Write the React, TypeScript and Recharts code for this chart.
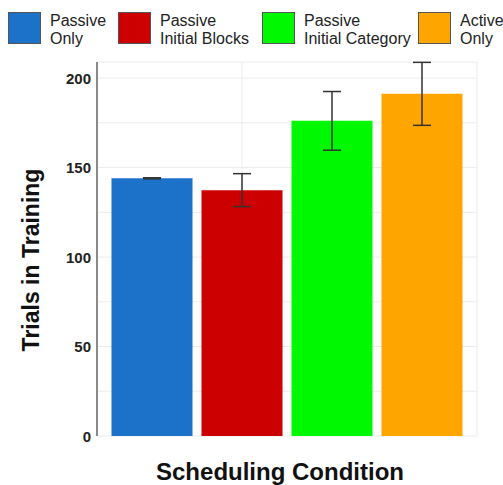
import React from 'react';
import { BarChart, Bar, XAxis, YAxis, CartesianGrid, ErrorBar, Cell } from 'recharts';

const categories = ['Passive Only', 'Passive Initial Blocks', 'Passive Initial Category', 'Active Only'];
const legendLine1 = ['Passive', 'Passive', 'Passive', 'Active'];
const legendLine2 = ['Only', 'Initial Blocks', 'Initial Category', 'Only'];
const meanTrials = [144.0, 137.4, 176.1, 191.2];
const errTrials = [0.3, 9.2, 16.4, 17.6];
const colors = ['#1c71c9', '#cc0000', '#00f900', '#ffa500'];
const yTicks = [0, 25, 50, 75, 100, 125, 150, 175, 200];
const yLabelTicks = [0, 50, 100, 150, 200];

const data = categories.map((c, i) => ({ name: c, value: meanTrials[i], err: errTrials[i] }));

const FONT = '"Liberation Sans", Arial, Helvetica, sans-serif';

const legendX = [8, 118, 262, 418];

const YTick = (props: any) => {
  const { x, y, payload } = props;
  if (!yLabelTicks.includes(payload.value)) return <g />;
  return (
    <text x={x} y={y} textAnchor="end" dominantBaseline="central" fontFamily={FONT} fontSize={15} fontWeight="bold" fill="#222">
      {payload.value}
    </text>
  );
};

const NoTick = () => <g />;

export default function App() {
  return (
    <div style={{ position: 'absolute', left: 0, top: 0, width: 503, height: 485, background: '#fff', overflow: 'hidden' }}>
      <div style={{ position: 'absolute', left: 0, top: 0, width: 503, height: 50 }}>
        {categories.map((c, i) => (
          <div key={c} style={{ position: 'absolute', left: legendX[i], top: 12, display: 'flex', alignItems: 'flex-start' }}>
            <div style={{ width: 33, height: 32, background: colors[i], border: '1px solid #555', boxSizing: 'border-box' }} />
            <div style={{ marginLeft: 9, marginTop: 0, fontFamily: FONT, fontSize: 16, lineHeight: '18px', color: '#222', whiteSpace: 'nowrap' }}>
              <div>{legendLine1[i]}</div>
              <div>{legendLine2[i]}</div>
            </div>
          </div>
        ))}
      </div>
      <div style={{ position: 'absolute', left: 0, top: 0 }}>
        <BarChart width={503} height={485} data={data} margin={{ top: 62, right: 26, left: 0, bottom: 49 }} barCategoryGap="5%">
          <CartesianGrid stroke="#ebebeb" strokeWidth={1} />
          <XAxis dataKey="name" height={0} tick={<NoTick />} tickLine={false} axisLine={{ stroke: '#666', strokeWidth: 1.5 }} padding={{ left: 10, right: 10 }} />
          <YAxis
            width={97}
            domain={[0, 209]}
            ticks={yTicks}
            interval={0}
            tick={<YTick />}
            tickLine={false}
            tickSize={4}
            tickMargin={2}
            axisLine={{ stroke: '#666', strokeWidth: 1.5 }}
            allowDataOverflow
          />
          <Bar dataKey="value" isAnimationActive={false}>
            {data.map((d, i) => (
              <Cell key={d.name} fill={colors[i]} />
            ))}
            <ErrorBar dataKey="err" width={9} stroke="#333" strokeWidth={1.5} isAnimationActive={false} />
          </Bar>
        </BarChart>
        <svg width={503} height={485} style={{ position: 'absolute', left: 0, top: 0, pointerEvents: 'none' }}>
          <text x={39} y={260} transform="rotate(-90, 39, 260)" textAnchor="middle" fontFamily={FONT} fontSize={23} fontWeight="bold" fill="#111">
            Trials in Training
          </text>
          <text x={280} y={480} textAnchor="middle" fontFamily={FONT} fontSize={24} fontWeight="bold" fill="#111">
            Scheduling Condition
          </text>
        </svg>
      </div>
    </div>
  );
}
